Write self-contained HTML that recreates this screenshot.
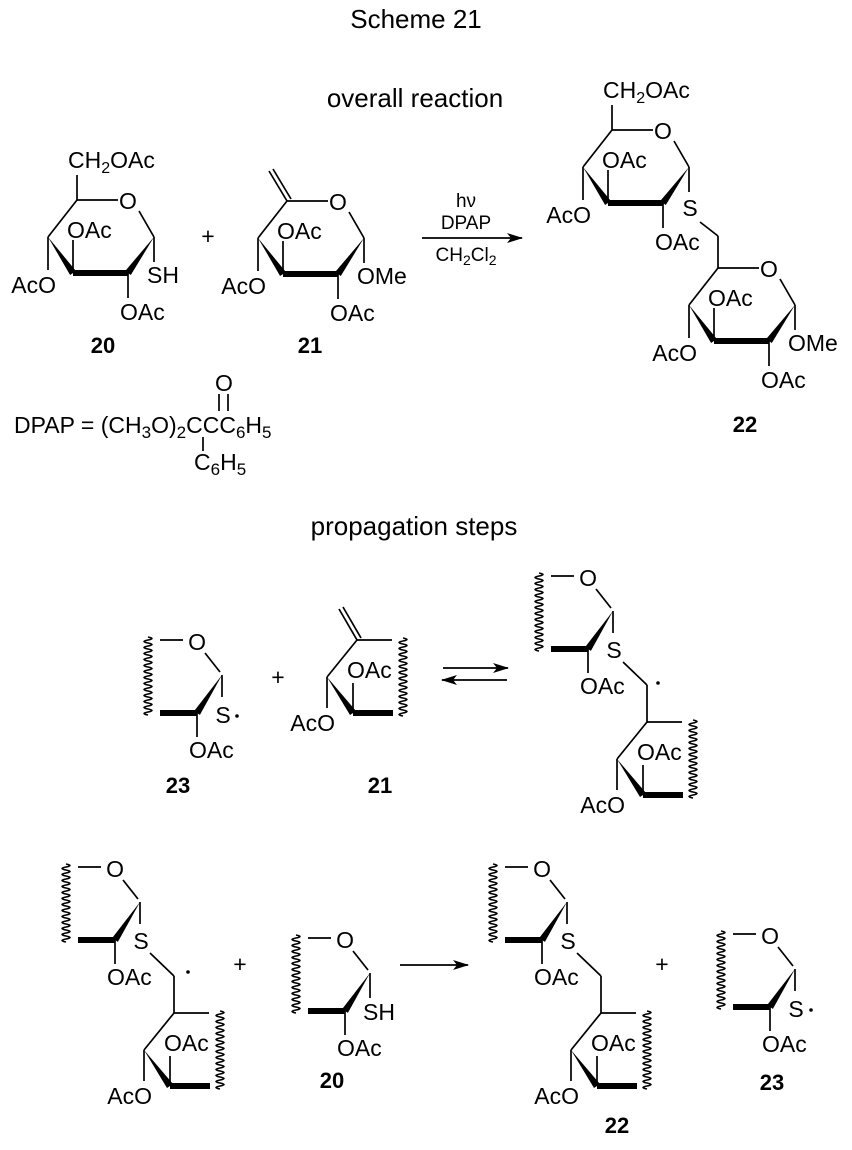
<!DOCTYPE html>
<html><head><meta charset="utf-8"><style>
html,body{margin:0;padding:0;background:#fff;}
svg{display:block;}
text{font-family:"Liberation Sans",Arial,sans-serif;fill:#000;}
.s{font-size:23px;}
.b{font-size:22px;font-weight:bold;}
.h{font-size:26px;}
.r{font-size:19px;}
line,path.l{stroke:#000;stroke-width:1.7;fill:none;}
.t{stroke:#000;stroke-width:6;}
.w{fill:none;stroke:#000;stroke-width:1.6;}
</style></head><body>
<svg width="852" height="1150" viewBox="0 0 852 1150" xmlns="http://www.w3.org/2000/svg">
<defs>
<marker id="ah" markerWidth="16" markerHeight="10" refX="15" refY="5" orient="auto" markerUnits="userSpaceOnUse"><path d="M0,0 L16,5 L0,10 L4,5 Z" fill="#000"/></marker>
<path id="wv" d=""/>
</defs>
<text class="h" x="416" y="28" text-anchor="middle">Scheme 21</text>
<text class="h" x="415" y="107" text-anchor="middle">overall reaction</text>
<text class="h" x="414" y="535" text-anchor="middle">propagation steps</text>

<!-- 20 -->
<g transform="translate(48,237)">
<line x1="0" y1="0" x2="29" y2="-37"/><line x1="29" y1="-37" x2="70" y2="-37"/>
<text class="s" x="80" y="-28" text-anchor="middle">O</text>
<line x1="91" y1="-26" x2="106" y2="0"/>
<polygon points="0,0 22.1,38 27.9,34"/><line class="t" x1="25" y1="36" x2="80" y2="36"/><polygon points="106,0 82.8,38 77.2,34"/>
<line x1="29" y1="-37" x2="29" y2="-62"/>
<text class="s" x="20" y="-69">CH<tspan font-size="16" dy="5">2</tspan><tspan dy="-5">OAc</tspan></text>
<line x1="0" y1="0" x2="0" y2="33"/><text class="s" x="8" y="56" text-anchor="end">AcO</text>
<line x1="25" y1="36" x2="25" y2="3"/><text class="s" x="19" y="1">OAc</text>
<line x1="106" y1="0" x2="106" y2="25"/><text class="s" x="99" y="46">SH</text>
<line x1="80" y1="36" x2="80" y2="61"/><text class="s" x="72" y="83">OAc</text>
</g>
<text class="b" x="103" y="353" text-anchor="middle">20</text>
<text class="s" x="208" y="244" text-anchor="middle">+</text>

<!-- 21 -->
<g transform="translate(258,238)">
<line x1="0" y1="0" x2="29" y2="-37"/><line x1="29" y1="-37" x2="70" y2="-37"/>
<text class="s" x="80" y="-28" text-anchor="middle">O</text>
<line x1="91" y1="-26" x2="106" y2="0"/>
<polygon points="0,0 22.1,38 27.9,34"/><line class="t" x1="25" y1="36" x2="80" y2="36"/><polygon points="106,0 82.8,38 77.2,34"/>
<line x1="29" y1="-37" x2="11" y2="-67"/><line x1="33" y1="-39" x2="15" y2="-69"/>
<line x1="0" y1="0" x2="0" y2="33"/><text class="s" x="8" y="56" text-anchor="end">AcO</text>
<line x1="25" y1="36" x2="25" y2="3"/><text class="s" x="19" y="1">OAc</text>
<line x1="106" y1="0" x2="106" y2="25"/><text class="s" x="99" y="46">OMe</text>
<line x1="80" y1="36" x2="80" y2="61"/><text class="s" x="72" y="83">OAc</text>
</g>
<text class="b" x="310" y="353" text-anchor="middle">21</text>

<!-- arrow -->
<line x1="422" y1="238" x2="522" y2="238" marker-end="url(#ah)"/>
<text class="r" x="466" y="207" text-anchor="middle">hν</text>
<text class="r" x="466" y="229" text-anchor="middle">DPAP</text>
<text class="r" x="466" y="261" text-anchor="middle">CH<tspan font-size="14" dy="4">2</tspan><tspan dy="-4">Cl</tspan><tspan font-size="14" dy="4">2</tspan></text>

<!-- 22 top -->
<g transform="translate(583,167)">
<line x1="0" y1="0" x2="29" y2="-37"/><line x1="29" y1="-37" x2="70" y2="-37"/>
<text class="s" x="80" y="-28" text-anchor="middle">O</text>
<line x1="91" y1="-26" x2="106" y2="0"/>
<polygon points="0,0 22.1,38 27.9,34"/><line class="t" x1="25" y1="36" x2="80" y2="36"/><polygon points="106,0 82.8,38 77.2,34"/>
<line x1="29" y1="-37" x2="29" y2="-62"/>
<text class="s" x="20" y="-69">CH<tspan font-size="16" dy="5">2</tspan><tspan dy="-5">OAc</tspan></text>
<line x1="0" y1="0" x2="0" y2="33"/><text class="s" x="8" y="56" text-anchor="end">AcO</text>
<line x1="25" y1="36" x2="25" y2="3"/><text class="s" x="19" y="1">OAc</text>
<line x1="106" y1="0" x2="106" y2="25"/><text class="s" x="107" y="49" text-anchor="middle">S</text>
<line x1="80" y1="36" x2="80" y2="61"/><text class="s" x="72" y="83">OAc</text>
<line x1="117" y1="55" x2="135" y2="69"/><line x1="135" y1="69" x2="135" y2="101"/>
</g>
<g transform="translate(689,305)">
<line x1="0" y1="0" x2="29" y2="-37"/><line x1="29" y1="-37" x2="70" y2="-37"/>
<text class="s" x="80" y="-28" text-anchor="middle">O</text>
<line x1="91" y1="-26" x2="106" y2="0"/>
<polygon points="0,0 22.1,38 27.9,34"/><line class="t" x1="25" y1="36" x2="80" y2="36"/><polygon points="106,0 82.8,38 77.2,34"/>
<line x1="0" y1="0" x2="0" y2="33"/><text class="s" x="8" y="56" text-anchor="end">AcO</text>
<line x1="25" y1="36" x2="25" y2="3"/><text class="s" x="19" y="1">OAc</text>
<line x1="106" y1="0" x2="106" y2="25"/><text class="s" x="99" y="46">OMe</text>
<line x1="80" y1="36" x2="80" y2="61"/><text class="s" x="72" y="83">OAc</text>
</g>
<text class="b" x="745" y="432" text-anchor="middle">22</text>

<!-- DPAP -->
<text x="14" y="433" font-size="23">DPAP = (CH<tspan font-size="17" dy="5">3</tspan><tspan dy="-5">O)</tspan><tspan font-size="17" dy="5">2</tspan><tspan dy="-5">CCC</tspan><tspan font-size="17" dy="5">6</tspan><tspan dy="-5">H</tspan><tspan font-size="17" dy="5">5</tspan></text>
<text class="s" x="224" y="391" text-anchor="middle">O</text>
<line x1="219" y1="394" x2="219" y2="411"/><line x1="228" y1="394" x2="228" y2="411"/>
<line x1="203" y1="437" x2="203" y2="451"/>
<text x="194" y="470" font-size="23">C<tspan font-size="17" dy="5">6</tspan><tspan dy="-5">H</tspan><tspan font-size="17" dy="5">5</tspan></text>

<!-- 23 -->
<g transform="translate(222,675)">
<path class="w" d="M-74,-38 q8,1.5 0,3 t0,3 t0,3 t0,3 t0,3 t0,3 t0,3 t0,3 t0,3 t0,3 t0,3 t0,3 t0,3 t0,3 t0,3 t0,3 t0,3 t0,3 t0,3 t0,3 t0,3 t0,3 t0,3 t0,3 t0,3 t0,3"/>
<line x1="-62" y1="-35" x2="-39" y2="-35"/><text class="s" x="-25" y="-25" text-anchor="middle">O</text>
<line x1="-17" y1="-22" x2="-2" y2="-3"/>
<line class="t" x1="-62" y1="38" x2="-25" y2="38"/><polygon points="0,0 -22.1,39.9 -27.9,36.1"/>
<line x1="0" y1="0" x2="0" y2="22"/>
<line x1="-25" y1="38" x2="-25" y2="62"/><text class="s" x="-33" y="83">OAc</text>
<text class="s" x="1" y="48" text-anchor="middle">S</text><circle cx="15" cy="41" r="1.8"/>
</g>
<text class="b" x="178" y="793" text-anchor="middle">23</text>
<text class="s" x="278" y="685" text-anchor="middle">+</text>

<!-- 21 fragment -->
<g transform="translate(327,677)">
<line x1="0" y1="0" x2="30" y2="-37"/><line x1="30" y1="-37" x2="65" y2="-37"/>
<path class="w" d="M76,-39 q8,1.5 0,3 t0,3 t0,3 t0,3 t0,3 t0,3 t0,3 t0,3 t0,3 t0,3 t0,3 t0,3 t0,3 t0,3 t0,3 t0,3 t0,3 t0,3 t0,3 t0,3 t0,3 t0,3 t0,3 t0,3 t0,3 t0,3"/>
<line x1="30" y1="-37" x2="12" y2="-68"/><line x1="34" y1="-39" x2="16" y2="-70"/>
<line x1="0" y1="0" x2="0" y2="31"/><text class="s" x="8" y="54" text-anchor="end">AcO</text>
<polygon points="0,0 23,38 29,34"/><line x1="26" y1="36" x2="26" y2="6"/><text class="s" x="20" y="1">OAc</text>
<line class="t" x1="26" y1="36" x2="66" y2="36"/>
</g>
<text class="b" x="380" y="793" text-anchor="middle">21</text>

<!-- equilibrium -->
<line x1="443" y1="668" x2="508" y2="668" marker-end="url(#ah)"/>
<line x1="507" y1="680" x2="442" y2="680" marker-end="url(#ah)"/>

<!-- radical adduct -->
<g transform="translate(613,611)">
<path class="w" d="M-74,-38 q8,1.5 0,3 t0,3 t0,3 t0,3 t0,3 t0,3 t0,3 t0,3 t0,3 t0,3 t0,3 t0,3 t0,3 t0,3 t0,3 t0,3 t0,3 t0,3 t0,3 t0,3 t0,3 t0,3 t0,3 t0,3 t0,3 t0,3"/>
<line x1="-62" y1="-35" x2="-39" y2="-35"/><text class="s" x="-25" y="-25" text-anchor="middle">O</text>
<line x1="-17" y1="-22" x2="-2" y2="-3"/>
<line class="t" x1="-62" y1="38" x2="-25" y2="38"/><polygon points="0,0 -22.1,39.9 -27.9,36.1"/>
<line x1="0" y1="0" x2="0" y2="22"/>
<line x1="-25" y1="38" x2="-25" y2="62"/><text class="s" x="-33" y="83">OAc</text>
<text class="s" x="1" y="47" text-anchor="middle">S</text>
<line x1="10" y1="51" x2="34" y2="74"/><line x1="34" y1="74" x2="34" y2="111"/><circle cx="45" cy="72" r="1.8"/>
</g>
<g transform="translate(617,759)">
<line x1="0" y1="0" x2="30" y2="-37"/><line x1="30" y1="-37" x2="65" y2="-37"/>
<path class="w" d="M76,-39 q8,1.5 0,3 t0,3 t0,3 t0,3 t0,3 t0,3 t0,3 t0,3 t0,3 t0,3 t0,3 t0,3 t0,3 t0,3 t0,3 t0,3 t0,3 t0,3 t0,3 t0,3 t0,3 t0,3 t0,3 t0,3 t0,3 t0,3"/>
<line x1="0" y1="0" x2="0" y2="31"/><text class="s" x="8" y="54" text-anchor="end">AcO</text>
<polygon points="0,0 23,38 29,34"/><line x1="26" y1="36" x2="26" y2="6"/><text class="s" x="20" y="1">OAc</text>
<line class="t" x1="26" y1="36" x2="66" y2="36"/>
</g>

<!-- bottom left radical -->
<g transform="translate(140,902)">
<path class="w" d="M-74,-38 q8,1.5 0,3 t0,3 t0,3 t0,3 t0,3 t0,3 t0,3 t0,3 t0,3 t0,3 t0,3 t0,3 t0,3 t0,3 t0,3 t0,3 t0,3 t0,3 t0,3 t0,3 t0,3 t0,3 t0,3 t0,3 t0,3 t0,3"/>
<line x1="-62" y1="-35" x2="-39" y2="-35"/><text class="s" x="-25" y="-25" text-anchor="middle">O</text>
<line x1="-17" y1="-22" x2="-2" y2="-3"/>
<line class="t" x1="-62" y1="38" x2="-25" y2="38"/><polygon points="0,0 -22.1,39.9 -27.9,36.1"/>
<line x1="0" y1="0" x2="0" y2="22"/>
<line x1="-25" y1="38" x2="-25" y2="62"/><text class="s" x="-33" y="83">OAc</text>
<text class="s" x="1" y="47" text-anchor="middle">S</text>
<line x1="10" y1="51" x2="34" y2="74"/><line x1="34" y1="74" x2="34" y2="111"/><circle cx="48" cy="70" r="1.8"/>
</g>
<g transform="translate(144,1050)">
<line x1="0" y1="0" x2="30" y2="-37"/><line x1="30" y1="-37" x2="65" y2="-37"/>
<path class="w" d="M76,-39 q8,1.5 0,3 t0,3 t0,3 t0,3 t0,3 t0,3 t0,3 t0,3 t0,3 t0,3 t0,3 t0,3 t0,3 t0,3 t0,3 t0,3 t0,3 t0,3 t0,3 t0,3 t0,3 t0,3 t0,3 t0,3 t0,3 t0,3"/>
<line x1="0" y1="0" x2="0" y2="31"/><text class="s" x="8" y="54" text-anchor="end">AcO</text>
<polygon points="0,0 23,38 29,34"/><line x1="26" y1="36" x2="26" y2="6"/><text class="s" x="20" y="1">OAc</text>
<line class="t" x1="26" y1="36" x2="66" y2="36"/>
</g>
<text class="s" x="240" y="972" text-anchor="middle">+</text>

<!-- 20 fragment -->
<g transform="translate(370,973)">
<path class="w" d="M-74,-38 q8,1.5 0,3 t0,3 t0,3 t0,3 t0,3 t0,3 t0,3 t0,3 t0,3 t0,3 t0,3 t0,3 t0,3 t0,3 t0,3 t0,3 t0,3 t0,3 t0,3 t0,3 t0,3 t0,3 t0,3 t0,3 t0,3 t0,3"/>
<line x1="-62" y1="-35" x2="-39" y2="-35"/><text class="s" x="-25" y="-25" text-anchor="middle">O</text>
<line x1="-17" y1="-22" x2="-2" y2="-3"/>
<line class="t" x1="-62" y1="38" x2="-25" y2="38"/><polygon points="0,0 -22.1,39.9 -27.9,36.1"/>
<line x1="0" y1="0" x2="0" y2="25"/>
<line x1="-25" y1="38" x2="-25" y2="62"/><text class="s" x="-33" y="83">OAc</text>
<text class="s" x="-7" y="47">SH</text>
</g>
<text class="b" x="332" y="1088" text-anchor="middle">20</text>
<line x1="400" y1="965" x2="468" y2="965" marker-end="url(#ah)"/>

<!-- 22 fragment -->
<g transform="translate(567,902)">
<path class="w" d="M-74,-38 q8,1.5 0,3 t0,3 t0,3 t0,3 t0,3 t0,3 t0,3 t0,3 t0,3 t0,3 t0,3 t0,3 t0,3 t0,3 t0,3 t0,3 t0,3 t0,3 t0,3 t0,3 t0,3 t0,3 t0,3 t0,3 t0,3 t0,3"/>
<line x1="-62" y1="-35" x2="-39" y2="-35"/><text class="s" x="-25" y="-25" text-anchor="middle">O</text>
<line x1="-17" y1="-22" x2="-2" y2="-3"/>
<line class="t" x1="-62" y1="38" x2="-25" y2="38"/><polygon points="0,0 -22.1,39.9 -27.9,36.1"/>
<line x1="0" y1="0" x2="0" y2="22"/>
<line x1="-25" y1="38" x2="-25" y2="62"/><text class="s" x="-33" y="83">OAc</text>
<text class="s" x="1" y="47" text-anchor="middle">S</text>
<line x1="10" y1="51" x2="34" y2="74"/><line x1="34" y1="74" x2="34" y2="111"/>
</g>
<g transform="translate(571,1050)">
<line x1="0" y1="0" x2="30" y2="-37"/><line x1="30" y1="-37" x2="65" y2="-37"/>
<path class="w" d="M76,-39 q8,1.5 0,3 t0,3 t0,3 t0,3 t0,3 t0,3 t0,3 t0,3 t0,3 t0,3 t0,3 t0,3 t0,3 t0,3 t0,3 t0,3 t0,3 t0,3 t0,3 t0,3 t0,3 t0,3 t0,3 t0,3 t0,3 t0,3"/>
<line x1="0" y1="0" x2="0" y2="31"/><text class="s" x="8" y="54" text-anchor="end">AcO</text>
<polygon points="0,0 23,38 29,34"/><line x1="26" y1="36" x2="26" y2="6"/><text class="s" x="20" y="1">OAc</text>
<line class="t" x1="26" y1="36" x2="66" y2="36"/>
</g>
<text class="b" x="617" y="1133" text-anchor="middle">22</text>
<text class="s" x="662" y="972" text-anchor="middle">+</text>

<!-- 23 right -->
<g transform="translate(795,969)">
<path class="w" d="M-74,-38 q8,1.5 0,3 t0,3 t0,3 t0,3 t0,3 t0,3 t0,3 t0,3 t0,3 t0,3 t0,3 t0,3 t0,3 t0,3 t0,3 t0,3 t0,3 t0,3 t0,3 t0,3 t0,3 t0,3 t0,3 t0,3 t0,3 t0,3"/>
<line x1="-62" y1="-35" x2="-39" y2="-35"/><text class="s" x="-25" y="-25" text-anchor="middle">O</text>
<line x1="-17" y1="-22" x2="-2" y2="-3"/>
<line class="t" x1="-62" y1="38" x2="-25" y2="38"/><polygon points="0,0 -22.1,39.9 -27.9,36.1"/>
<line x1="0" y1="0" x2="0" y2="22"/>
<line x1="-25" y1="38" x2="-25" y2="62"/><text class="s" x="-33" y="83">OAc</text>
<text class="s" x="1" y="48" text-anchor="middle">S</text><circle cx="16" cy="41" r="1.8"/>
</g>
<text class="b" x="772" y="1090" text-anchor="middle">23</text>
</svg>
</body></html>
